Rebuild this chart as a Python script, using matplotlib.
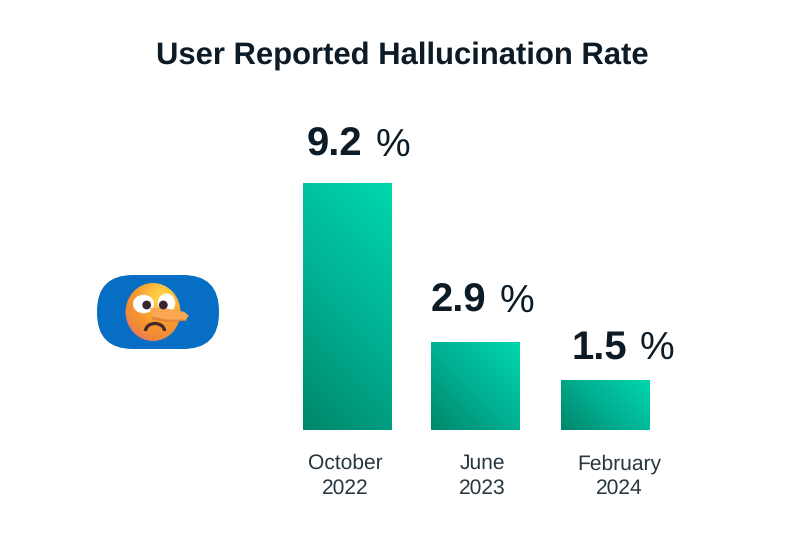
import numpy as np
import matplotlib
matplotlib.use("Agg")
import matplotlib.pyplot as plt
from matplotlib.colors import LinearSegmentedColormap
from matplotlib.patches import Circle, Ellipse, FancyBboxPatch, Polygon, Rectangle, Arc

plt.rcParams['font.family'] = ['Liberation Sans', 'DejaVu Sans']
plt.rcParams['text.hinting'] = 'none'
plt.rcParams['text.hinting_factor'] = 1

# Chart values
title = "User Reported Hallucination Rate"
categories = ["October\n2022", "June\n2023", "February\n2024"]
reported_rates = [9.2, 2.9, 1.5]
# bars in the picture are not to scale, heights read off the picture
bar_heights = [9.2, 3.28, 1.87]

W, H = 804, 540
DARK = "#0c1b25"
LABEL = "#27363f"
bar_cmap = LinearSegmentedColormap.from_list("bar", ["#00876b", "#00b193", "#00d7ad"])
face_cmap = LinearSegmentedColormap.from_list(
    "face", ["#ffcf48", "#fdb23a", "#f6982f", "#f08a38", "#e9687c"])

fig = plt.figure(figsize=(W / 100, H / 100), dpi=100)

# Overlay in pixel coordinates for title and badge
ov = fig.add_axes([0, 0, 1, 1])
ov.set_xlim(0, W)
ov.set_ylim(H, 0)
ov.axis("off")
ov.text(402.5, 56, title, ha="center", va="center", fontsize=22.2,
        fontweight="bold", color=DARK)

# Blue badge
ov.add_patch(FancyBboxPatch((133, 311), 50, 2, boxstyle="round,pad=36",
                            fc="#066fc4", ec="none"))

# Face with a soft gradient
u, v = np.meshgrid(np.linspace(0, 1, 120), np.linspace(0, 1, 120))
face_grad = np.hypot(u - 0.65, (v - 0.25) * 0.95)
face_im = ov.imshow(face_grad, extent=(125, 181, 341, 283), cmap=face_cmap,
                    vmin=0.1, vmax=0.85, aspect="auto", zorder=3)
face_im.set_clip_path(Ellipse((153, 312), 55, 58, transform=ov.transData))

# Eyes
ov.add_patch(Ellipse((143.5, 304), 21, 18.5, fc="white", ec="none", zorder=4))
ov.add_patch(Ellipse((166.5, 303), 17.5, 19, fc="white", ec="none", zorder=4))
for ex in [146.7, 163.3]:
    ov.add_patch(Circle((ex, 305), 4.4, fc="#3a2630", ec="none", zorder=5))

# Nose, darker underside first
under = [(152, 313), (165, 316), (186, 316), (186, 320), (166, 321.5), (153, 319)]
ov.add_patch(Polygon(under, closed=True, fc="#e8823a", ec="#e8823a", lw=1,
                     joinstyle="round", zorder=4))
nose = [(151, 309), (160, 308), (184, 312.5), (188, 316), (185, 319),
        (166, 319), (153, 316)]
ov.add_patch(Polygon(nose, closed=True, fc="#f9a750", ec="#f9a750", lw=1,
                     joinstyle="round", zorder=4))

# Mouth
ov.add_patch(Arc((155, 331), 19, 15, theta1=180, theta2=360, ec="#4a2a2e",
                 lw=2.4, zorder=5))

# Bars
ax = fig.add_axes([303 / W, (H - 430) / H, 347 / W, 247 / H])
ax.patch.set_alpha(0)
x = np.array([0, 0.992, 2])
bars = ax.bar(x, bar_heights, width=0.685, color="none")
g_u, g_v = np.meshgrid(np.linspace(0, 1, 200), np.linspace(0, 1, 200))
for bar in bars:
    bx, bw, bh = bar.get_x(), bar.get_width(), bar.get_height()
    # 45 degree gradient in pixel space, corner to corner
    w_px = bw * 129
    h_px = bh / max(bar_heights) * 247
    grad = (g_u * w_px + g_v * h_px) / (w_px + h_px)
    im = ax.imshow(grad, extent=(bx, bx + bw, 0, bh), origin="lower",
                   cmap=bar_cmap, vmin=0, vmax=1, aspect="auto", zorder=2)
    im.set_clip_path(Rectangle((bx, 0), bw, bh, transform=ax.transData))
ax.set_xlim(-0.345, 2.345)
ax.set_ylim(0, max(bar_heights))
ax.axis("off")

# Value labels, px offsets from the top of each bar
px = 72 / 100
num_dx = [3, -1, 10]
pct_dx = [72, 68, 78]
val_dy = [27, 30, 21]
for i, rate in enumerate(reported_rates):
    left = bars[i].get_x()
    ax.annotate(f"{rate}", (left, bar_heights[i]), xytext=(num_dx[i] * px, val_dy[i] * px),
                textcoords="offset points", ha="left", va="baseline", fontsize=29,
                fontweight="bold", color=DARK, annotation_clip=False)
    ax.annotate("%", (left, bar_heights[i]), xytext=(pct_dx[i] * px, val_dy[i] * px),
                textcoords="offset points", ha="left", va="baseline", fontsize=28,
                color=DARK, annotation_clip=False)

# Category labels
cat_dx = [-2, 7, 14]
for i, cat in enumerate(categories):
    ax.annotate(cat, (x[i], 0), xytext=(cat_dx[i] * px, -24 * px),
                textcoords="offset points", ha="center", va="top", fontsize=15,
                color=LABEL, linespacing=1.32, annotation_clip=False)

fig.savefig("out.png", dpi=100, facecolor="white")
